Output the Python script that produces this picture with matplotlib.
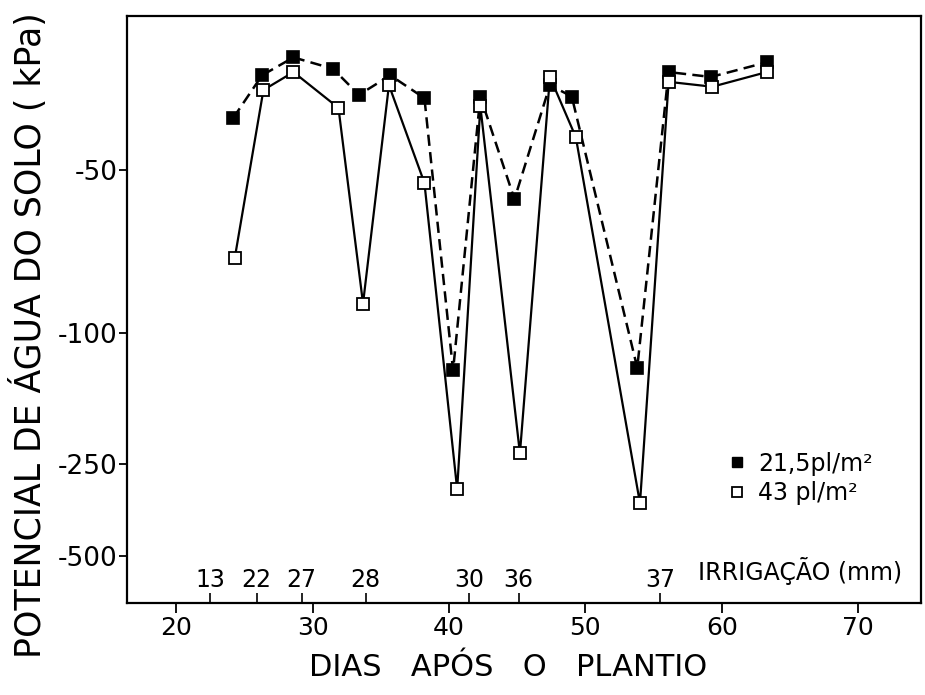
import numpy as np
import matplotlib
matplotlib.use("Agg")
import matplotlib.pyplot as plt
from matplotlib.lines import Line2D

matplotlib.rcParams['font.family'] = 'DejaVu Sans'
matplotlib.rcParams['axes.unicode_minus'] = False

# dias apos o plantio / potencial de agua do solo (kPa)
dias_21 = [24.2, 26.3, 28.6, 31.5, 33.4, 35.7, 38.2, 40.3, 42.3, 44.8, 47.4, 49.0, 53.8, 56.1, 59.2, 63.3]
psi_21  = [-34, -21, -15.5, -19, -27, -21, -28, -143, -27.5, -59, -24, -27.5, -140, -20, -21.5, -17]

dias_43 = [24.3, 26.4, 28.6, 31.9, 33.7, 35.6, 38.2, 40.6, 42.3, 45.2, 47.4, 49.3, 54.0, 56.1, 59.3, 63.3]
psi_43  = [-77, -25.5, -20, -31, -91, -24, -54, -319, -30.5, -238, -21.5, -40, -357, -23, -24.5, -20]

# irrigacoes (dia, mm)
irr_dias = [22.5, 25.9, 29.2, 33.9, 41.5, 45.1, 55.5]
irr_mm   = ['13', '22', '27', '28', '30', '36', '37']

x_ticks = [20, 30, 40, 50, 60, 70]
y_ticks = [-50, -100, -250, -500]
y_labels = ['-50', '-100', '-250', '-500']

# eixo y nao linear do original (escala por trechos)
kn_val = [-1000, -500, -250, -100, -50, 0]
kn_pos = [-137, 47, 139, 270, 433, 596]

def fwd(v):
    return np.interp(v, kn_val, kn_pos)

def inv(p):
    return np.interp(p, kn_pos, kn_val)

lw = 1.6

fig = plt.figure(figsize=(9.25, 6.95), dpi=100)
ax = fig.add_axes([0.1373, 0.1324, 0.8584, 0.8446])
ax.set_yscale('function', functions=(fwd, inv))

ax.plot(dias_21, psi_21, color='black', lw=lw + 0.2, ls=(0, (4.5, 2.5)),
        marker='s', ms=9, mfc='black', mec='black', mew=1.2, zorder=3)
ax.plot(dias_43, psi_43, color='black', lw=lw, ls='-',
        marker='s', ms=9, mfc='white', mec='black', mew=1.3, zorder=4)

ax.set_xlim(16.4, 74.6)
ax.set_ylim(-628, -2.8)

ax.set_xticks(x_ticks)
ax.set_yticks(y_ticks, labels=y_labels)
ax.set_xticks(irr_dias, labels=irr_mm, minor=True)
ax.yaxis.set_minor_locator(matplotlib.ticker.NullLocator())

ax.tick_params(axis='x', which='major', direction='out', length=7, width=1.3,
               pad=2.5, labelsize=18)
ax.tick_params(axis='y', which='major', direction='out', length=6, width=1.3,
               pad=1, labelsize=19)
ax.tick_params(axis='x', which='minor', direction='in', length=7, width=1.2,
               pad=-25, labelsize=17)

for s in ax.spines.values():
    s.set_linewidth(1.6)

ax.text(0.719, 0.054, 'IRRIGAÇÃO (mm)', transform=ax.transAxes,
        fontsize=17, ha='left', va='center')

ax.set_xlabel('DIAS   APÓS   O   PLANTIO', fontsize=22)
ax.xaxis.set_label_coords(0.480, -0.085)
ax.set_ylabel('POTENCIAL DE ÁGUA DO SOLO ( kPa)', fontsize=25)
ax.yaxis.set_label_coords(-0.099, 0.4566)

handles = [Line2D([], [], ls='none', marker='s', ms=7.5, mfc='black', mec='black'),
           Line2D([], [], ls='none', marker='s', ms=7.5, mfc='white', mec='black', mew=1.3)]
ax.legend(handles, ['21,5pl/m²', '43 pl/m²'], loc='upper left',
          bbox_to_anchor=(0.756, 0.258), frameon=False, borderpad=0,
          borderaxespad=0, handlelength=0.8, handletextpad=0.5,
          labelspacing=0.25, fontsize=17)

fig.savefig('out.png', dpi=100)
